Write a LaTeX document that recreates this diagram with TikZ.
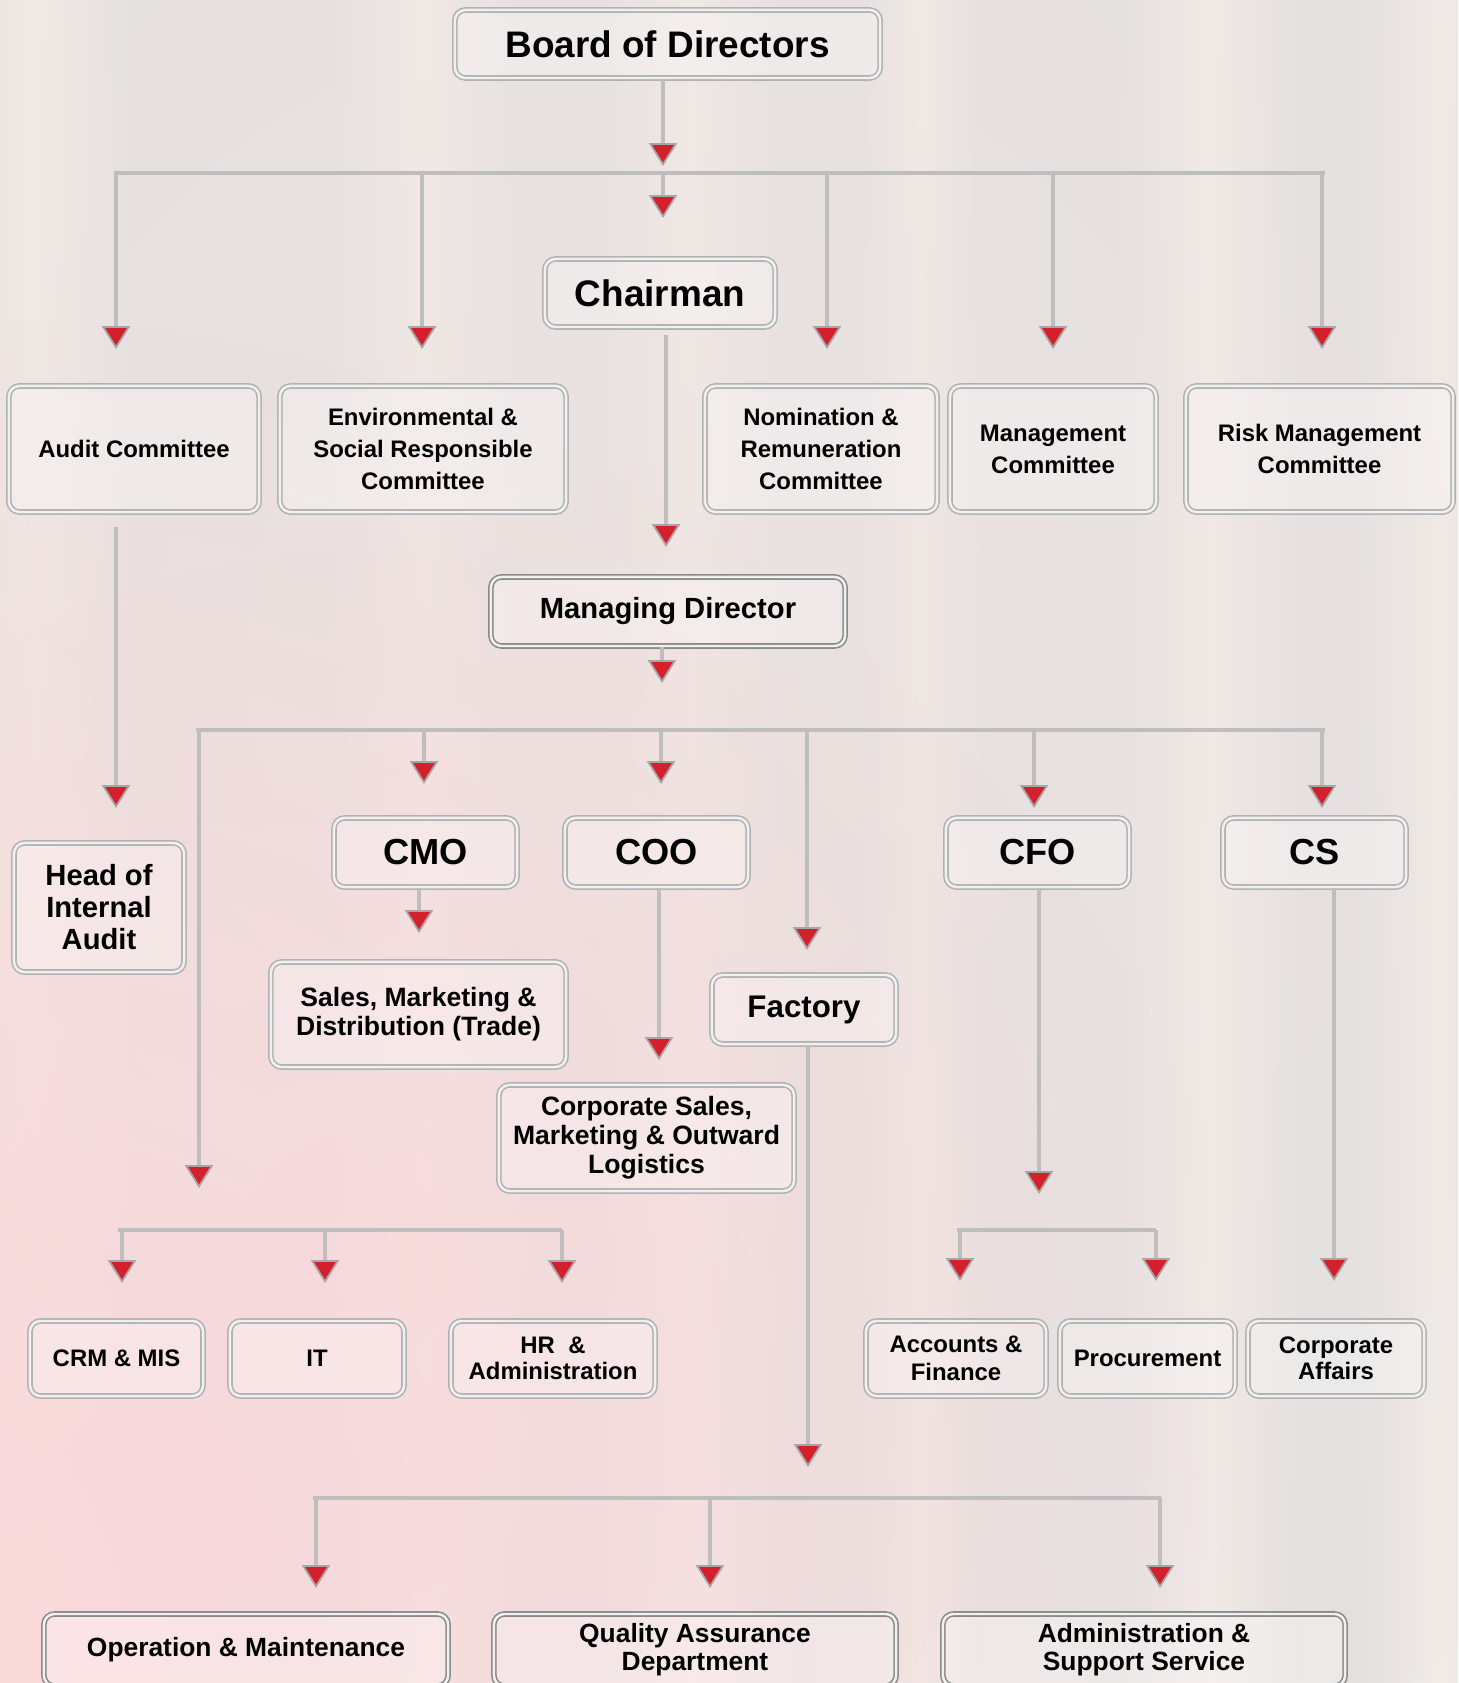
\documentclass[tikz,border=0pt]{standalone}
\usepackage{fontspec}
\setmainfont{Liberation Sans}
\usetikzlibrary{arrows.meta,fadings}
\definecolor{bgbase}{HTML}{E3E1E0}
\definecolor{bgpink}{HTML}{FBD9DB}
\definecolor{bgwarm}{HTML}{EEE3E1}
\definecolor{bgband}{HTML}{F1ECE8}
\definecolor{bordergray}{HTML}{B2B2B2}
\definecolor{darkborder}{HTML}{8A8A8A}
\definecolor{linegray}{HTML}{BEBEBE}
\definecolor{arrowred}{HTML}{D41F2D}
\definecolor{tipgray}{HTML}{A6A6A6}
\tikzfading[name=blob, inner color=transparent!0, outer color=transparent!100]
\tikzset{
  box/.style={draw=bordergray, line width=0.45pt, double=white!80!bordergray,
    double distance=0.7pt, rounded corners=3pt, fill=white, fill opacity=0.3,
    text opacity=1, inner sep=0pt, align=center},
  darkbox/.style={box, draw=darkborder},
  fbig/.style={font=\fontsize{10.5}{12}\selectfont\bfseries},
  fchief/.style={font=\fontsize{10.3}{12}\selectfont\bfseries},
  fmd/.style={font=\fontsize{8.3}{10}\selectfont\bfseries},
  fhia/.style={font=\fontsize{8.3}{9.1}\selectfont\bfseries},
  ffac/.style={font=\fontsize{8.9}{10}\selectfont\bfseries},
  fdiv/.style={font=\fontsize{7.55}{8.2}\selectfont\bfseries},
  fcom/.style={font=\fontsize{6.8}{9.1}\selectfont\bfseries},
  fdept/.style={font=\fontsize{6.8}{7.4}\selectfont\bfseries},
  fdeptb/.style={font=\fontsize{6.8}{8.0}\selectfont\bfseries},
  fbot/.style={font=\fontsize{7.5}{7.9}\selectfont\bfseries},
  arr/.style={draw=linegray, line width=1.1pt,
    -{Triangle[width=8pt,length=6.5pt,color=tipgray,fill=arrowred,line width=0.5pt]}},
  bus/.style={draw=linegray, line width=1.4pt},
  band/.style={left color=bgbase, right color=bgbase, middle color=bgband}
}
\begin{document}
\begin{tikzpicture}[x=0.01cm,y=-0.01cm]
% background
\clip (0,0) rectangle (1458,1683);
\fill[bgbase] (0,0) rectangle (1458,1683);
\foreach \a/\b in {-60/130, 330/520, 600/780, 860/980, 1120/1300, 1360/1520}{
  \shade[band] (\a,0) rectangle (\b,1683);
}
\fill[bgwarm, path fading=blob, opacity=0.7] (620,650) circle (1300);
\fill[bgpink, path fading=blob] (0,1620) circle (1300);
\fill[bgpink, path fading=blob, opacity=0.4] (350,1250) circle (700);

% nodes
\node[box, fbig, minimum width=4.25cm, minimum height=0.68cm] (bod) at (667.5,44) {Board of Directors};
\node[box, fbig, minimum width=2.30cm, minimum height=0.68cm] (chair) at (660,293) {Chairman};
\node[box, fcom, minimum width=2.50cm, minimum height=1.26cm] (audit) at (134,449) {Audit Committee};
\node[box, fcom, minimum width=2.86cm, minimum height=1.26cm] (env) at (423,449) {Environmental \&\\Social Responsible\\Committee};
\node[box, fcom, minimum width=2.32cm, minimum height=1.26cm] (nom) at (821,449) {Nomination \&\\Remuneration\\Committee};
\node[box, fcom, minimum width=2.06cm, minimum height=1.26cm] (mgmt) at (1053,449) {Management\\Committee};
\node[box, fcom, minimum width=2.67cm, minimum height=1.26cm] (risk) at (1319.5,449) {Risk Management\\Committee};
\node[darkbox, fmd, minimum width=3.54cm, minimum height=0.69cm] (md) at (668,611.5) {Managing Director};
\node[box, fhia, minimum width=1.70cm, minimum height=1.29cm] (hia) at (99,907.5) {Head of\\Internal\\Audit};
\node[box, fchief, minimum width=1.83cm, minimum height=0.69cm] (cmo) at (425.5,852.5) {CMO};
\node[box, fchief, minimum width=1.83cm, minimum height=0.69cm] (coo) at (656.5,852.5) {COO};
\node[box, fchief, minimum width=1.83cm, minimum height=0.69cm] (cfo) at (1037.5,852.5) {CFO};
\node[box, fchief, minimum width=1.83cm, minimum height=0.69cm] (cs) at (1314.5,852.5) {CS};
\node[box, fdiv, minimum width=2.95cm, minimum height=1.05cm] (smd) at (418.5,1014.5) {Sales, Marketing \&\\Distribution (Trade)};
\node[box, fdiv, minimum width=2.95cm, minimum height=1.06cm] (csm) at (646.5,1138) {Corporate Sales,\\Marketing \& Outward\\Logistics};
\node[box, ffac, minimum width=1.84cm, minimum height=0.69cm] (fac) at (804,1009.5) {Factory};
\node[box, fdept, minimum width=1.73cm, minimum height=0.75cm] (crm) at (116.5,1358.5) {CRM \& MIS};
\node[box, fdept, minimum width=1.74cm, minimum height=0.75cm] (it) at (317,1358.5) {IT};
\node[box, fdept, minimum width=2.04cm, minimum height=0.75cm] (hr) at (553,1358.5) {HR~~\&\\Administration};
\node[box, fdeptb, minimum width=1.80cm, minimum height=0.75cm] (acc) at (956,1358.5) {Accounts \&\\Finance};
\node[box, fdeptb, minimum width=1.75cm, minimum height=0.75cm] (proc) at (1147.5,1358.5) {Procurement};
\node[box, fdept, minimum width=1.76cm, minimum height=0.75cm] (corp) at (1336,1358.5) {Corporate\\Affairs};
\node[darkbox, fbot, minimum width=4.04cm, minimum height=0.72cm] (om) at (246,1650) {Operation \& Maintenance};
\node[darkbox, fbot, minimum width=4.02cm, minimum height=0.72cm] (qa) at (695,1650) {Quality Assurance\\Department};
\node[darkbox, fbot, minimum width=4.02cm, minimum height=0.72cm] (asv) at (1144,1650) {Administration \&\\Support Service};

% Board -> bus 1
\coordinate (t0) at (663,166);
\draw[arr] (bod.south -| t0) -- (t0);
\coordinate (b1L) at (114,173);
\coordinate (b1R) at (1325,173);
\draw[bus] (b1L) -- (b1R);
\coordinate (t1) at (663,218);
\draw[arr] (b1L -| t1) -- (t1);
\foreach \n/\x in {ca/116, cb/422, cc/827, cd/1053, ce/1322}{
  \coordinate (\n) at (\x,349);
  \draw[arr] (b1L -| \n) -- (\n);
}
% Chairman -> MD
\coordinate (t2) at (666,547);
\draw[arr, shorten <=2pt] (chair.south -| t2) -- (t2);
% MD -> bus 2
\coordinate (t3) at (662,683);
\draw[arr] (md.south -| t3) -- (t3);
\coordinate (b2L) at (196,730);
\coordinate (b2R) at (1325,730);
\draw[bus] (b2L) -- (b2R);
\coordinate (s1) at (199,1188);
\coordinate (s2) at (424,784);
\coordinate (s3) at (661,784);
\coordinate (s4) at (807,950);
\coordinate (s5) at (1034,808);
\coordinate (s6) at (1322,808);
\foreach \n in {s1,s2,s3,s4,s5,s6}{
  \draw[arr] (b2L -| \n) -- (\n);
}
% Audit -> Head of Internal Audit
\coordinate (t4) at (116,808);
\draw[arr, shorten <=4pt] (audit.south -| t4) -- (t4);
% CMO, COO, Factory, CFO, CS
\coordinate (t5) at (419,933);
\draw[arr] (cmo.south -| t5) -- (t5);
\coordinate (t6) at (659,1060);
\draw[arr] (coo.south -| t6) -- (t6);
\coordinate (t7) at (808,1467);
\draw[arr] (fac.south -| t7) -- (t7);
\coordinate (t8) at (1039,1194);
\draw[arr] (cfo.south -| t8) -- (t8);
\coordinate (t9) at (1334,1281);
\draw[arr] (cs.south -| t9) -- (t9);
% bus 3 (support departments)
\coordinate (b3L) at (118,1230);
\coordinate (b3R) at (562,1230);
\draw[bus] (b3L) -- (b3R);
\foreach \n/\x in {u1/122, u2/325, u3/562}{
  \coordinate (\n) at (\x,1283);
  \draw[arr] (b3L -| \n) -- (\n);
}
% bus 4 (finance)
\coordinate (b4L) at (957,1230);
\coordinate (b4R) at (1156,1230);
\draw[bus] (b4L) -- (b4R);
\foreach \n/\x in {v1/960, v2/1156}{
  \coordinate (\n) at (\x,1281);
  \draw[arr] (b4L -| \n) -- (\n);
}
% bus 5 (factory)
\coordinate (b5L) at (313,1498);
\coordinate (b5R) at (1161,1498);
\draw[bus] (b5L) -- (b5R);
\foreach \n/\x in {w1/316, w2/710, w3/1160}{
  \coordinate (\n) at (\x,1588);
  \draw[arr] (b5L -| \n) -- (\n);
}
\end{tikzpicture}
\end{document}
